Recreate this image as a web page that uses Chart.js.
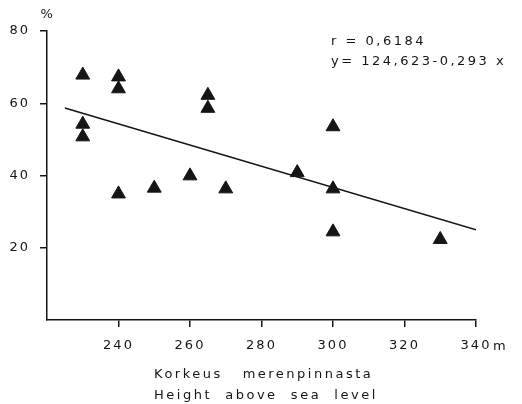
<!DOCTYPE html>
<html>
<head>
<meta charset="utf-8">
<script src="https://cdn.jsdelivr.net/npm/chart.js@4/dist/chart.umd.min.js"></script>
<style>
  html, body { margin: 0; padding: 0; background: #fff; }
  canvas { display: block; background: #fff; }
</style>
</head>
<body>
<canvas id="heightChart" width="522" height="404"></canvas>
<script>
/*===================================================================
   Data
==================================================================*/
// height above sea level (m)
const heights = [230, 230, 230, 240, 240, 240, 250, 260, 265, 265, 270, 290, 300, 300, 300, 330]
// share (%)
const shares = [67.8, 54.2, 50.7, 67.3, 64.0, 34.9, 36.5, 39.9, 62.2, 58.6, 36.3, 40.8, 53.5, 36.3, 24.4, 22.3]

// regression y = a + b x
const intercept = 124.623
const slope = -0.293
const lineRange = [225, 340]

const xTicks = [240, 260, 280, 300, 320, 340]
const yTicks = [20, 40, 60, 80]

const statLines = ['r = 0,6184', 'y= 124,623-0,293 x']
const xTitle = ['Korkeus   merenpinnasta', 'Height  above  sea  level']

const ink = '#151515'
const fontFamily = "'DejaVu Sans', sans-serif"

/*===================================================================
   Build datasets
==================================================================*/
const points = heights.map((h, i) => ({ x: h, y: shares[i] }))
const fitLine = lineRange.map(x => ({ x: x, y: intercept + slope * x }))

/*===================================================================
   Lettering plugin: spaced text, stats, axis title
==================================================================*/
const lettering = {
  id: 'lettering',
  beforeDraw(chart) {
    chart.ctx.letterSpacing = '2px'
  },
  afterDraw(chart) {
    const ctx = chart.ctx
    const { x, y } = chart.scales
    ctx.save()
    ctx.fillStyle = ink
    ctx.font = `13px ${fontFamily}`
    ctx.letterSpacing = '2.5px'
    ctx.textBaseline = 'alphabetic'

    // unit labels
    ctx.textAlign = 'center'
    ctx.fillText('%', x.left + 1, 18)
    ctx.textAlign = 'left'
    ctx.fillText('m', x.getPixelForValue(340) + 17, 350)

    // r and equation
    ctx.fillText(statLines[0], 331, 45)
    ctx.fillText(statLines[1], 331, 65)

    // axis title, two lines
    ctx.fillText(xTitle[0], 154, 378)
    ctx.fillText(xTitle[1], 154, 399)
    ctx.restore()
  }
}

/*===================================================================
   Chart
==================================================================*/
const ctx = document.getElementById('heightChart').getContext('2d')
const heightChart = new Chart(ctx, {
  type: 'scatter',
  data: {
    datasets: [
      {
        label: 'fit',
        type: 'line',
        data: fitLine,
        borderColor: ink,
        borderWidth: 1.5,
        pointRadius: 0,
        fill: false,
        order: 2
      },
      {
        label: 'obs',
        data: points,
        pointStyle: 'triangle',
        pointRadius: 8,
        pointHoverRadius: 8,
        backgroundColor: ink,
        borderColor: ink,
        borderWidth: 1,
        order: 1
      }
    ]
  },
  plugins: [lettering],
  options: {
    responsive: false,
    animation: false,
    devicePixelRatio: 1,
    layout: { padding: { left: 0, right: 46, top: 31, bottom: 0 } },
    plugins: {
      legend: { display: false },
      tooltip: { enabled: false }
    },
    events: [],
    scales: {
      x: {
        type: 'linear',
        min: 220,
        max: 340,
        afterFit: s => { s.height = 84 },
        afterBuildTicks: s => { s.ticks = [220].concat(xTicks).map(v => ({ value: v })) },
        border: { display: true, color: ink, width: 1.5 },
        grid: {
          drawOnChartArea: false,
          drawTicks: true,
          tickLength: 7,
          lineWidth: 1.5,
          color: c => (c.tick && c.tick.value === 220) ? 'rgba(0,0,0,0)' : ink
        },
        ticks: {
          color: ink,
          padding: 11,
          font: { family: fontFamily, size: 13 },
          callback: v => v === 220 ? '' : v
        }
      },
      y: {
        type: 'linear',
        min: 0,
        max: 80,
        afterFit: s => { s.width = 47 },
        afterBuildTicks: s => { s.ticks = [0].concat(yTicks).map(v => ({ value: v })) },
        border: { display: true, color: ink, width: 1.5 },
        grid: {
          drawOnChartArea: false,
          drawTicks: true,
          tickLength: 7,
          lineWidth: 1.5,
          color: c => (c.tick && c.tick.value === 0) ? 'rgba(0,0,0,0)' : ink
        },
        ticks: {
          color: ink,
          padding: 10,
          font: { family: fontFamily, size: 13 },
          callback: v => v === 0 ? '' : v
        }
      }
    }
  }
})
</script>
</body>
</html>
